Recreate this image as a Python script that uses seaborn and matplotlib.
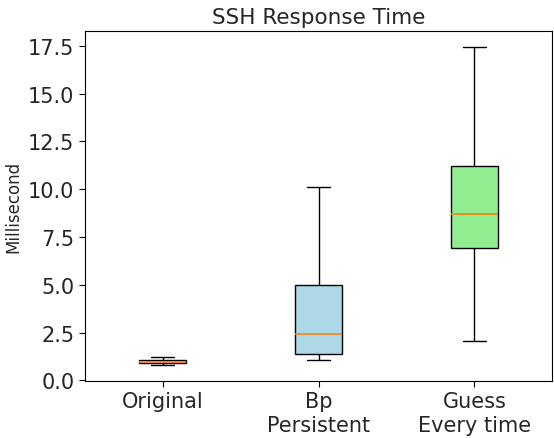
import matplotlib
matplotlib.use("Agg")
import matplotlib.pyplot as plt
import seaborn as sns
import pandas as pd

categories = ["Original", "Bp\nPersistent", "Guess\nEvery time"]
# five-number summaries: min, q1, median, q3, max
original = [0.80, 0.93, 0.98, 1.05, 1.20]
bp_persistent = [1.05, 1.36, 2.41, 4.98, 10.11]
guess_every_time = [2.04, 6.91, 8.70, 11.21, 17.45]
box_colors = ["pink", "lightblue", "lightgreen"]

rows = []
for cat, vals in zip(categories, [original, bp_persistent, guess_every_time]):
    for v in vals:
        rows.append({"cat": cat, "ms": v})
df = pd.DataFrame(rows)

sns.set_style("white")
plt.rcParams["font.family"] = ["DejaVu Sans"]
fig, ax = plt.subplots(figsize=(5.54, 4.39), dpi=100)
fig.subplots_adjust(left=0.153, right=0.997, top=0.927, bottom=0.13)

sns.boxplot(data=df, x="cat", y="ms", hue="cat", palette=box_colors, legend=False,
            order=categories, width=0.3, whis=(0, 100), linecolor="black",
            linewidth=1.0, saturation=1, ax=ax,
            medianprops={"color": "#ff7f0e", "linewidth": 1.2},
            boxprops={"edgecolor": "black"},
            whiskerprops={"color": "black"},
            capprops={"color": "black"})

for sp in ax.spines.values():
    sp.set_visible(True)
    sp.set_color("black")
    sp.set_linewidth(0.8)

ax.set_title("SSH Response Time", fontsize=15.5)
ax.set_ylabel("Millisecond", fontsize=12)
ax.set_xlabel("")
ax.tick_params(axis="both", labelsize=15, length=4, color="black", left=True, bottom=True)
ax.set_yticks([0, 2.5, 5, 7.5, 10, 12.5, 15, 17.5])
ax.set_yticklabels(["0.0", "2.5", "5.0", "7.5", "10.0", "12.5", "15.0", "17.5"])
ax.set_ylim(-0.03, 18.28)

fig.savefig("out.png", dpi=100)
